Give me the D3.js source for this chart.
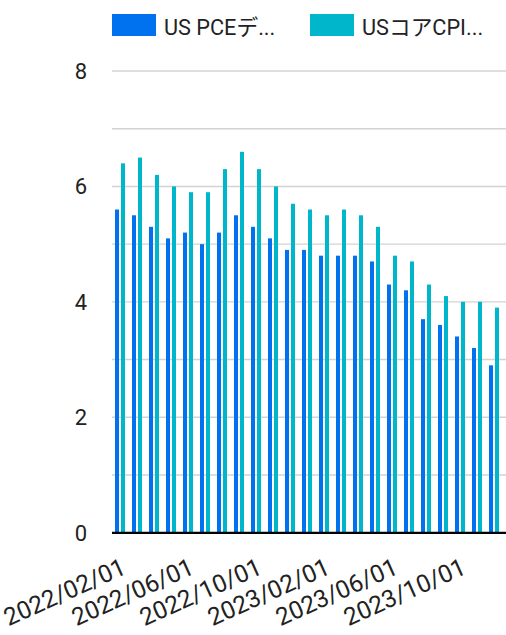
<!DOCTYPE html>
<html>
<head>
<meta charset="utf-8">
<script src="https://cdn.jsdelivr.net/npm/d3@7"></script>
<style>
  html, body { margin: 0; padding: 0; background: #fff; }
  svg { display: block; }
  text { font-family: Roboto, "Noto Sans CJK JP", sans-serif; fill: #222; }
</style>
</head>
<body>
<script>
const categories = ["2022/02/01","2022/03/01","2022/04/01","2022/05/01","2022/06/01","2022/07/01",
  "2022/08/01","2022/09/01","2022/10/01","2022/11/01","2022/12/01","2023/01/01",
  "2023/02/01","2023/03/01","2023/04/01","2023/05/01","2023/06/01","2023/07/01",
  "2023/08/01","2023/09/01","2023/10/01","2023/11/01","2023/12/01"];
const seriesNames = ["US PCEデ...", "USコアCPI..."];
const pce = [5.6,5.5,5.3,5.1,5.2,5.0,5.2,5.5,5.3,5.1,4.9,4.9,4.8,4.8,4.8,4.7,4.3,4.2,3.7,3.6,3.4,3.2,2.9];
const coreCpi = [6.4,6.5,6.2,6.0,5.9,5.9,6.3,6.6,6.3,6.0,5.7,5.6,5.5,5.6,5.5,5.3,4.8,4.7,4.3,4.1,4.0,4.0,3.9];
const colors = ["#0072f0", "#00b6cb"];
const yTicks = [0,2,4,6,8];
const yGrid = [0,1,2,3,4,5,6,7,8];
const xTickLabels = ["2022/02/01","2022/06/01","2022/10/01","2023/02/01","2023/06/01","2023/10/01"];

const W = 506, H = 635;
const svg = d3.select("body").append("svg").attr("width", W).attr("height", H);

const plotLeft = 112, plotRight = 506;
const y = d3.scaleLinear().domain([0, 8]).range([532.7, 71]);
const x0 = d3.scaleBand().domain(categories).range([111.5, 502.5]);
const x1 = d3.scaleBand().domain([0, 1]).range([3.5, 13.5]).paddingInner(1/3);

// gridlines
svg.append("g").selectAll("line").data(yGrid.filter(d => d !== 0)).join("line")
  .attr("x1", plotLeft).attr("x2", plotRight)
  .attr("y1", d => y(d)).attr("y2", d => y(d))
  .attr("stroke", "#d3d3d3").attr("stroke-width", 1.4);

// y labels
svg.append("g").selectAll("text").data(yTicks).join("text")
  .attr("x", 87).attr("y", d => y(d)).attr("dy", "0.36em")
  .attr("text-anchor", "end").attr("font-size", 22).text(d => d);

// bars
const data = categories.map((c, i) => ({ c, vals: [pce[i], coreCpi[i]] }));
const groups = svg.append("g").selectAll("g").data(data).join("g")
  .attr("transform", d => `translate(${x0(d.c)},0)`);
groups.selectAll("rect").data(d => d.vals.map((v, k) => ({ v, k }))).join("rect")
  .attr("x", d => x1(d.k)).attr("width", x1.bandwidth())
  .attr("y", d => y(d.v)).attr("height", d => y(0) - y(d.v))
  .attr("fill", d => colors[d.k]);

// baseline
svg.append("line").attr("x1", plotLeft).attr("x2", plotRight)
  .attr("y1", y(0) + 0.2).attr("y2", y(0) + 0.2)
  .attr("stroke", "#000").attr("stroke-width", 2.2);

// x labels
svg.append("g").selectAll("text").data(xTickLabels).join("text")
  .attr("transform", d => `translate(${x0(d) + x0.bandwidth() / 2 + 0.5},557) rotate(-24)`)
  .attr("text-anchor", "end").attr("dy", "0.72em")
  .attr("font-size", 24.5).text(d => d);

// legend
const lg = svg.append("g").selectAll("g").data(seriesNames).join("g")
  .attr("transform", (d, i) => `translate(${[112, 310][i]},14)`);
lg.append("rect").attr("width", 44).attr("height", 22).attr("fill", (d, i) => colors[i]);
lg.append("text").attr("x", 52).attr("y", 21).attr("font-size", 21.7).text(d => d);
</script>
</body>
</html>
